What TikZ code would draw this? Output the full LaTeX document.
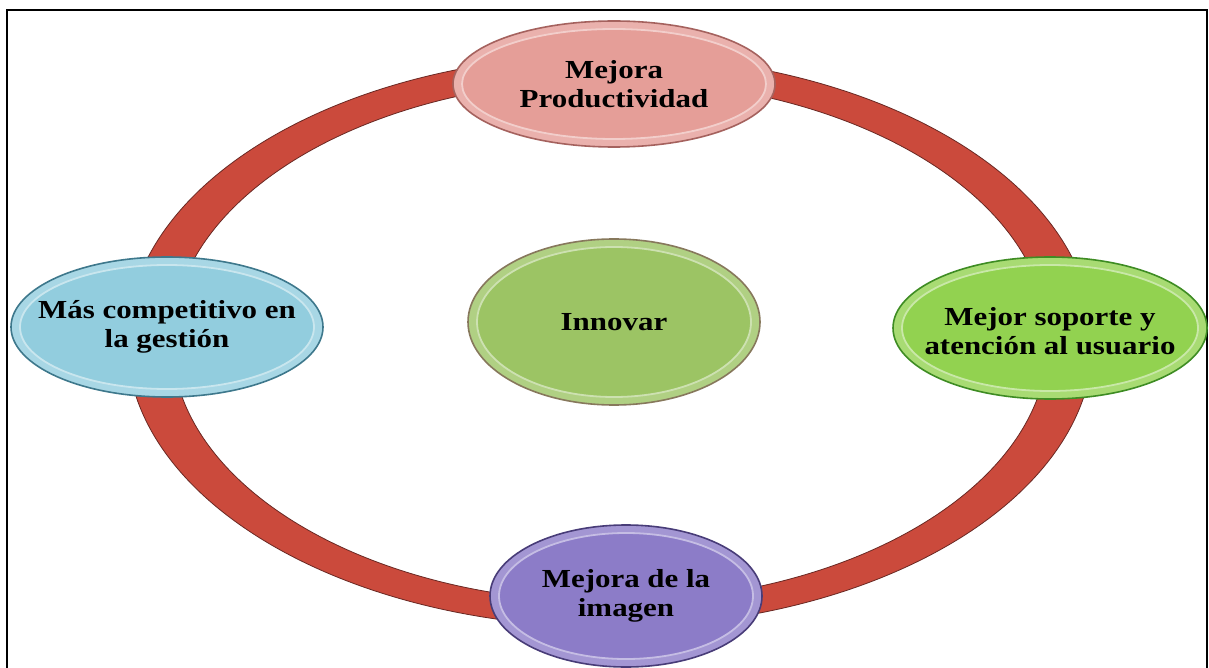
\documentclass[tikz,border=0pt]{standalone}
\usepackage{fontspec}
\newfontfamily\lbl[FakeStretch=1.19]{Liberation Serif}
\usetikzlibrary{shapes.geometric}
\definecolor{ringred}{RGB}{203,74,60}
\definecolor{ringedge}{RGB}{105,40,35}
\definecolor{pinkf}{RGB}{229,158,152}
\definecolor{pinke}{RGB}{165,98,94}
\definecolor{bluef}{RGB}{146,205,222}
\definecolor{bluee}{RGB}{62,120,140}
\definecolor{greenf}{RGB}{146,210,80}
\definecolor{greene}{RGB}{62,140,35}
\definecolor{purplef}{RGB}{140,124,200}
\definecolor{purplee}{RGB}{72,60,120}
\definecolor{olivef}{RGB}{156,196,100}
\definecolor{olivee}{RGB}{135,120,92}
\tikzset{
  bub/.style n args={4}{ellipse, inner sep=0pt,
    minimum width={(2*#3)*1pt}, minimum height={(2*#4)*1pt},
    fill=#1!80!white, draw=#2, line width=1.6pt,
    path picture={\draw[draw=white!50!#1, line width=1.8pt, fill=#1]
      (path picture bounding box.center) ellipse [x radius={(#3-9)*1pt}, y radius={(#4-8)*1pt}];}},
  txt/.style={font=\lbl\bfseries\fontsize{26}{29}\selectfont, align=center, text=black, inner sep=0pt},
  ring/.style={fill=ringred, draw=ringedge, line width=0.8pt, even odd rule},
  frame/.style={draw=black, line width=2pt}
}
\begin{document}
\begin{tikzpicture}[x=1pt,y=-1pt]
\useasboundingbox (0,0) rectangle (1209,668);
\clip (0,0) rectangle (1209,668);
\fill[white] (0,0) rectangle (1209,668);
\draw[frame] (6.5,10.5) rectangle (1207,700);
\coordinate (rc) at (610,341);
\path[ring] (rc) ellipse [x radius=483pt, y radius=286pt]
            (rc) ellipse [x radius=438pt, y radius=261pt];
\node[bub={pinkf}{pinke}{161}{63}, label={[txt]center:{Mejora\\Productividad}}] (prod) at (614,84) {};
\node[bub={bluef}{bluee}{156}{70}, label={[txt]center:{Más competitivo en\\la gestión}}] (comp) at (167,327) {};
\node[bub={greenf}{greene}{157}{71}, label={[txt,yshift=-3pt]center:{Mejor soporte y\\atención al usuario}}] (sop) at (1050,328) {};
\node[bub={purplef}{purplee}{136}{71}, label={[txt]center:{Mejora de la\\imagen}}] (img) at (626,596) {};
\node[bub={olivef}{olivee}{146}{83}, label={[txt]center:{Innovar}}] (inn) at (614,322) {};
\end{tikzpicture}
\end{document}
